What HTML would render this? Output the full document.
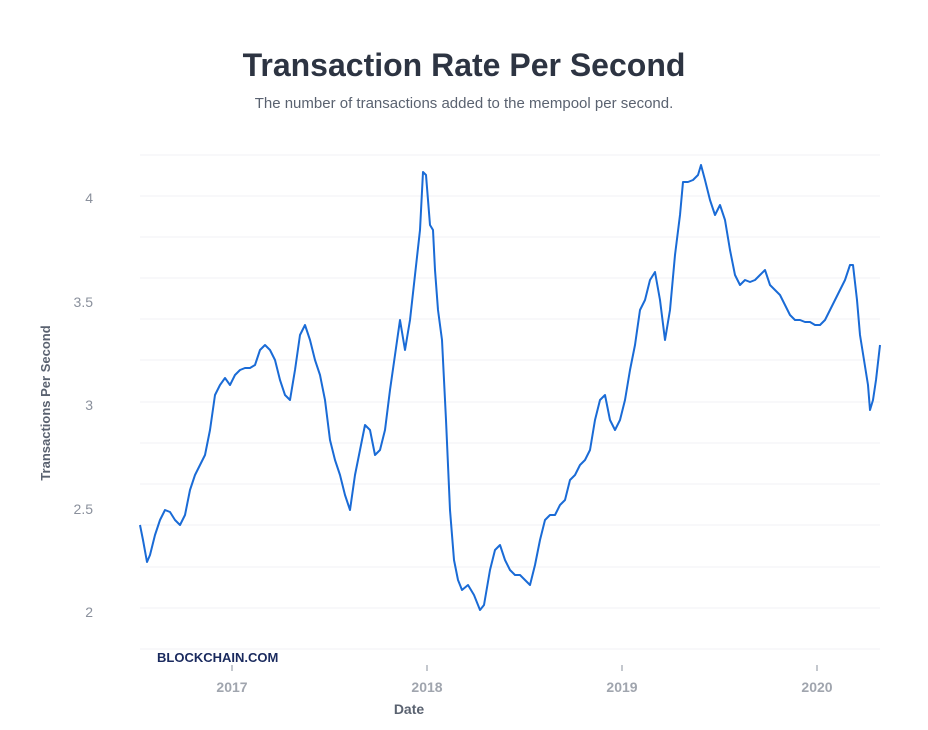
<!DOCTYPE html>
<html><head><meta charset="utf-8"><style>
body{margin:0;background:#fff;width:928px;height:725px;overflow:hidden;font-family:"Liberation Sans",sans-serif}
</style></head><body>
<svg width="928" height="725" xmlns="http://www.w3.org/2000/svg" font-family="Liberation Sans, sans-serif">
<text x="464" y="76" text-anchor="middle" font-size="32" font-weight="bold" fill="#2d3442">Transaction Rate Per Second</text>
<text x="464" y="108" text-anchor="middle" font-size="15" fill="#5a6270">The number of transactions added to the mempool per second.</text>
<g stroke="#f0f1f4" stroke-width="1">
<line x1="140" x2="880" y1="155" y2="155"/><line x1="140" x2="880" y1="196" y2="196"/>
<line x1="140" x2="880" y1="237" y2="237"/><line x1="140" x2="880" y1="278" y2="278"/>
<line x1="140" x2="880" y1="319" y2="319"/><line x1="140" x2="880" y1="360" y2="360"/>
<line x1="140" x2="880" y1="402" y2="402"/><line x1="140" x2="880" y1="443" y2="443"/>
<line x1="140" x2="880" y1="484" y2="484"/><line x1="140" x2="880" y1="525" y2="525"/>
<line x1="140" x2="880" y1="567" y2="567"/><line x1="140" x2="880" y1="608" y2="608"/>
<line x1="140" x2="880" y1="649" y2="649"/>
</g>
<g font-size="14" fill="#8a909c" text-anchor="end">
<text x="93" y="203">4</text><text x="93" y="307">3.5</text><text x="93" y="410">3</text><text x="93" y="514">2.5</text><text x="93" y="617">2</text>
</g>
<text transform="translate(50,403) rotate(-90)" text-anchor="middle" font-size="13" font-weight="bold" fill="#5a6270">Transactions Per Second</text>
<g stroke="#8a909c"><line x1="232" x2="232" y1="665" y2="671"/><line x1="427" x2="427" y1="665" y2="671"/><line x1="622" x2="622" y1="665" y2="671"/><line x1="817" x2="817" y1="665" y2="671"/></g>
<g font-size="14" font-weight="bold" fill="#a0a5ae" text-anchor="middle">
<text x="232" y="692">2017</text><text x="427" y="692">2018</text><text x="622" y="692">2019</text><text x="817" y="692">2020</text>
</g>
<text x="409" y="714" text-anchor="middle" font-size="14" font-weight="bold" fill="#5a6270">Date</text>
<text x="157" y="662" font-size="13" font-weight="bold" fill="#1a2a5e">BLOCKCHAIN.COM</text>
<polyline fill="none" stroke="#1a6bd6" stroke-width="2" stroke-linejoin="round" points="140,525 143,540 147,562 150,555 155,535 160,520 165,510 170,512 175,520 180,525 185,515 190,490 195,475 200,465 205,455 210,430 215,395 220,385 225,378 230,385 235,375 240,370 245,368 250,368 255,365 260,350 265,345 270,350 275,360 280,380 285,395 290,400 295,370 300,335 305,325 310,340 315,360 320,375 325,400 330,440 335,460 340,475 345,495 350,510 355,475 360,450 365,425 370,430 375,455 380,450 385,430 390,390 395,355 400,320 405,350 410,320 415,275 420,230 423,172 426,175 430,225 433,230 435,270 438,310 442,340 446,420 450,510 454,560 458,580 462,590 468,585 474,595 480,610 484,605 490,570 495,550 500,545 505,560 510,570 515,575 520,575 525,580 530,585 535,565 540,540 545,520 550,515 555,515 560,505 565,500 570,480 575,475 580,465 585,460 590,450 595,420 600,400 605,395 610,420 615,430 620,420 625,400 630,370 635,345 640,310 645,300 650,280 655,272 660,300 665,340 670,310 675,255 680,215 683,182 688,182 693,180 698,175 701,165 705,180 710,200 715,215 720,205 725,220 730,250 735,275 740,285 745,280 750,282 755,280 760,275 765,270 770,285 775,290 780,295 785,305 790,315 795,320 800,320 805,322 810,322 815,325 820,325 825,320 830,310 835,300 840,290 845,280 850,265 853,265 857,300 860,335 864,360 868,385 870,410 873,400 876,380 880,345"/>
</svg>
</body></html>
